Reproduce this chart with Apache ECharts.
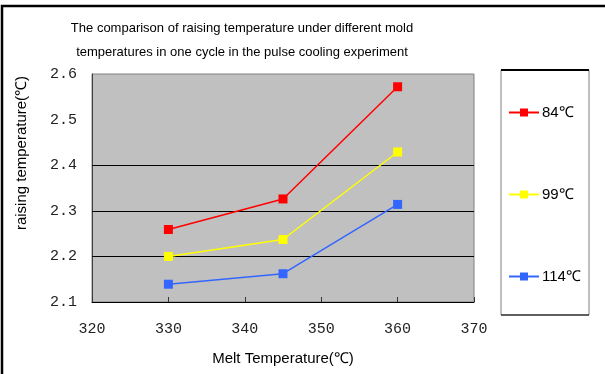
<!DOCTYPE html>
<html>
<head>
<meta charset="utf-8">
<script src="https://cdn.jsdelivr.net/npm/echarts@6/dist/echarts.min.js"></script>
<style>
  html, body { margin: 0; padding: 0; background: #fff; }
  #chart { width: 605px; height: 374px; }
</style>
</head>
<body>
<div id="chart"></div>
<script>
// Melt temperatures (°C) on the x axis
const meltTemps = [330, 345, 360];
// Raising temperature (°C) per mold temperature
const series84 = [2.259, 2.326, 2.572];
const series99 = [2.200, 2.237, 2.429];
const series114 = [2.139, 2.162, 2.314];
const seriesNames = ['84℃', '99℃', '114℃'];
// Horizontal reference lines drawn across the plot
const gridValues = [2.2, 2.3, 2.4];

const colors = ['#FF0000', '#FFFF00', '#3366FF'];
const allValues = [series84, series99, series114];

const chart = echarts.init(document.getElementById('chart'));

const series = allValues.map((vals, i) => ({
  name: seriesNames[i],
  type: 'line',
  data: vals.map((v, j) => [meltTemps[j], v]),
  symbol: 'rect',
  symbolSize: 9,
  color: colors[i],
  lineStyle: { width: 1.5, color: colors[i] },
  itemStyle: { color: colors[i] },
  z: 5 + i,
  markLine: i === 0 ? {
    silent: true,
    symbol: 'none',
    label: { show: false },
    lineStyle: { color: '#000', width: 1, type: 'solid' },
    data: gridValues.map(v => ({ yAxis: v })),
    z: 2
  } : undefined
}));

chart.setOption({
  animation: false,
  backgroundColor: '#fff',
  title: {
    text: 'The comparison of raising temperature under different mold\ntemperatures in one cycle in the pulse cooling experiment',
    left: 237,
    top: 11,
    textAlign: 'center',
    textStyle: {
      fontFamily: 'Liberation Sans',
      fontSize: 13,
      fontWeight: 'normal',
      color: '#000',
      lineHeight: 24
    }
  },
  grid: {
    left: 92, top: 74, right: 131, bottom: 72,
    show: true,
    backgroundColor: '#C0C0C0',
    borderColor: '#808080',
    borderWidth: 1
  },
  xAxis: {
    type: 'value',
    min: 320, max: 370, interval: 10,
    name: 'Melt Temperature(℃)',
    nameLocation: 'middle',
    nameGap: 49,
    nameTextStyle: { fontFamily: 'Liberation Sans', fontSize: 15, color: '#000' },
    axisLine: { show: true, lineStyle: { color: '#000', width: 1 } },
    axisTick: { show: true, inside: true, length: 5, lineStyle: { color: '#333' } },
    axisLabel: { fontFamily: 'Liberation Mono', fontSize: 15, color: '#222', margin: 20 },
    splitLine: { show: false }
  },
  yAxis: {
    type: 'value',
    min: 2.1, max: 2.6, interval: 0.1,
    axisLine: { show: true, lineStyle: { color: '#404040', width: 1 } },
    axisTick: { show: false },
    axisLabel: {
      fontFamily: 'Liberation Mono', fontSize: 15, color: '#222', margin: 15,
      formatter: v => v.toFixed(1)
    },
    splitLine: { show: false }
  },
  legend: {
    orient: 'vertical',
    left: 508,
    top: 105,
    padding: 0,
    itemGap: 67,
    itemWidth: 30,
    itemHeight: 10,
    data: seriesNames,
    textStyle: { fontFamily: 'Liberation Sans', fontSize: 15, color: '#000', padding: [2, 0, 0, -2] }
  },
  graphic: [
    {
      type: 'rect',
      shape: { x: 2, y: 6, width: 640, height: 400 },
      style: { fill: 'none', stroke: '#000', lineWidth: 2.5 },
      silent: true
    },
    {
      type: 'rect',
      shape: { x: 501, y: 70, width: 88, height: 245 },
      style: { fill: 'none', stroke: '#808080', lineWidth: 1 },
      silent: true
    },
    {
      type: 'line',
      shape: { x1: 501, y1: 70, x2: 589, y2: 70 },
      style: { stroke: '#000', lineWidth: 2 },
      silent: true
    },
    {
      type: 'line',
      shape: { x1: 501, y1: 315, x2: 589, y2: 315 },
      style: { stroke: '#000', lineWidth: 1 },
      silent: true
    },
    {
      type: 'text',
      x: 22,
      y: 153,
      rotation: Math.PI / 2,
      style: {
        text: 'raising temperature(℃)',
        fontFamily: 'Liberation Sans',
        fontSize: 15,
        fill: '#000',
        align: 'center',
        verticalAlign: 'middle'
      },
      silent: true
    }
  ],
  series: series
});
</script>
</body>
</html>
